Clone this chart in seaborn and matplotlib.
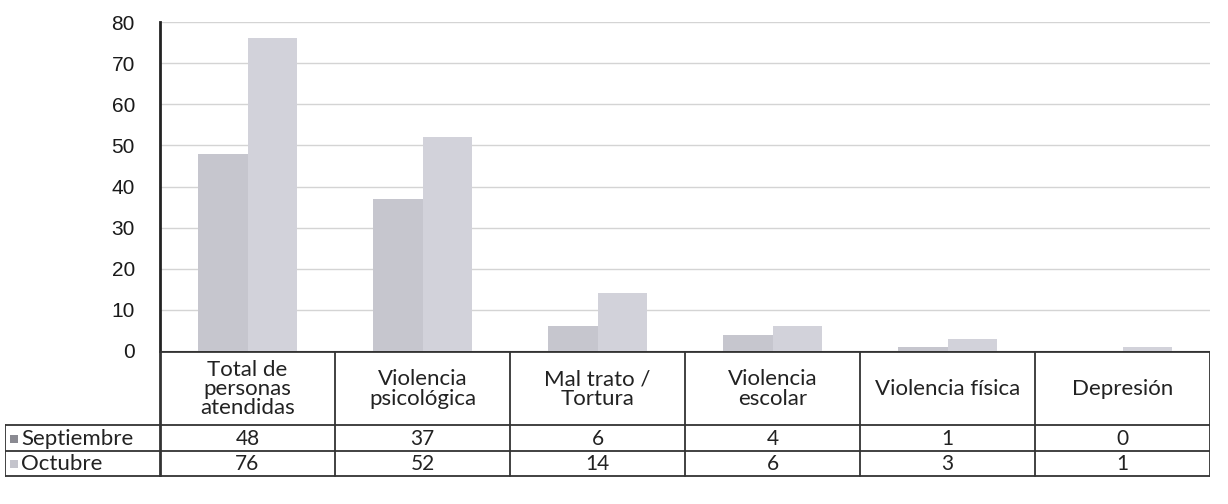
import matplotlib
matplotlib.use("Agg")
import matplotlib.pyplot as plt
import seaborn as sns
import pandas as pd

categories = ["Total de\npersonas\natendidas", "Violencia\npsicológica", "Mal trato /\nTortura",
              "Violencia\nescolar", "Violencia física", "Depresión"]
series_names = ["Septiembre", "Octubre"]
septiembre = [48, 37, 6, 4, 1, 0]
octubre = [76, 52, 14, 6, 3, 1]
yticks = [0, 10, 20, 30, 40, 50, 60, 70, 80]

colors = {"Septiembre": "#c6c6ce", "Octubre": "#d2d2da"}
key_colors = {"Septiembre": "#8a8a92", "Octubre": "#c4c4cc"}

df = pd.DataFrame({
    "cat": categories * 2,
    "serie": [series_names[0]] * len(categories) + [series_names[1]] * len(categories),
    "val": septiembre + octubre,
})

sns.set_theme(style="white")
plt.rcParams["font.family"] = ["Liberation Sans", "DejaVu Sans"]

W, H = 1228, 504
fig = plt.figure(figsize=(W / 100, H / 100), dpi=100)
fig.patch.set_facecolor("white")

x0, x1 = 160, 1210
ytop, y0 = 22, 351
ax = fig.add_axes([x0 / W, 1 - y0 / H, (x1 - x0) / W, (y0 - ytop) / H])
sns.barplot(data=df, x="cat", y="val", hue="serie", order=categories,
            hue_order=series_names, palette=colors, width=0.57, gap=0,
            saturation=1, ax=ax, legend=False, linewidth=0)
ax.set_xlim(-0.5, len(categories) - 0.5)
ax.set_ylim(0, 80)
ax.set_yticks(yticks)
ax.set_yticklabels([str(t) for t in yticks], fontsize=15, color="#1a1a1a")
ax.tick_params(axis="y", length=0, pad=18)
ax.set_xticks([])
ax.set_xlabel("")
ax.set_ylabel("")
ax.yaxis.grid(True, color="#d4d4d4", linewidth=1)
ax.set_axisbelow(True)
for s in ["top", "right", "bottom"]:
    ax.spines[s].set_visible(False)
ax.spines["left"].set_color("#222222")
ax.spines["left"].set_linewidth(2)

# Data table below the chart
tb_left, tb_bottom = 5, 477
tax = fig.add_axes([tb_left / W, 1 - tb_bottom / H, (x1 - tb_left) / W, (tb_bottom - y0) / H])
tax.set_xlim(tb_left, x1)
tax.set_ylim(tb_bottom, y0)
tax.axis("off")
n = len(categories)
colw = (x1 - x0) / n
r_head, r1, r2 = 425, 451, 476
lc = "#333333"
lw = 1.3
tax.plot([x0, x1], [y0, y0], color=lc, lw=2, solid_capstyle="butt")
for k in range(n + 1):
    xx = x0 + k * colw
    tax.plot([xx, xx], [y0, r2], color=lc, lw=lw if k else 2)
for yy in [r_head, r1, r2]:
    tax.plot([tb_left, x1], [yy, yy], color=lc, lw=lw)
tax.plot([tb_left, tb_left], [r_head, r2], color=lc, lw=lw)

tfont = ["Lato", "DejaVu Sans"]
for k, c in enumerate(categories):
    cx = x0 + (k + 0.5) * colw
    tax.text(cx, (y0 + r_head) / 2 + 1, c, ha="center", va="center", fontsize=16,
             family=tfont, color="#222222", linespacing=0.95)
    tax.text(cx, (r_head + r1) / 2 + 1, str(septiembre[k]), ha="center", va="center",
             fontsize=15, family=tfont, color="#222222")
    tax.text(cx, (r1 + r2) / 2 + 1, str(octubre[k]), ha="center", va="center",
             fontsize=15, family=tfont, color="#222222")

for name, (ya, yb) in zip(series_names, [(r_head, r1), (r1, r2)]):
    yc = (ya + yb) / 2
    tax.scatter([14], [yc + 1], marker="s", s=34, color=key_colors[name], linewidths=0)
    tax.text(21, yc + 1, name, ha="left", va="center", fontsize=16, family=tfont, color="#222222")

fig.savefig("out.png", dpi=100, facecolor="white")
